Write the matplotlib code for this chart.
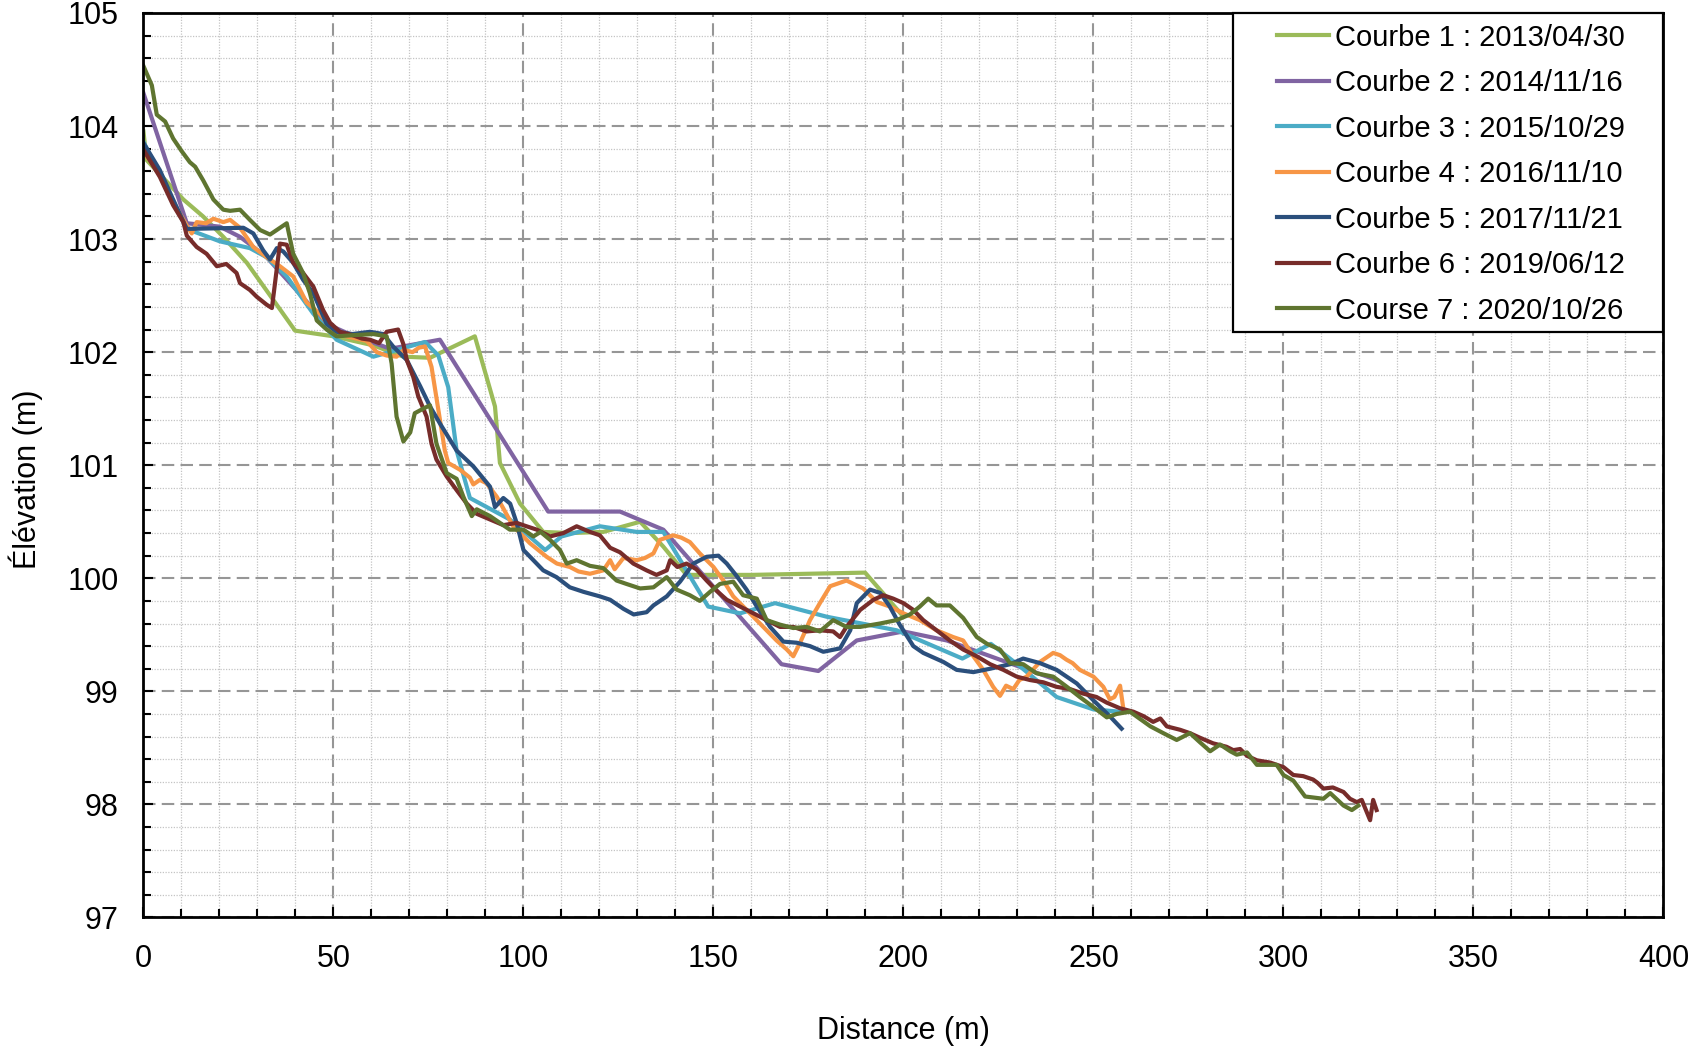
import numpy as np
import matplotlib
matplotlib.use("Agg")
import matplotlib.pyplot as plt
from matplotlib.patches import Rectangle
from matplotlib.ticker import MultipleLocator

# longitudinal profiles: (distance m, elevation m)
courbe_1 = [
    (0, 103.95), (0.8, 103.70), (10.5, 103.35), (15.7, 103.20), (21, 103.02),
    (27.2, 102.79), (34.2, 102.46), (39.9, 102.19), (50, 102.14), (60.5, 102.06),
    (68.4, 101.96), (75.4, 101.95), (87.2, 102.14), (92.5, 101.52), (93.8, 101.02),
    (99.1, 100.66), (105.2, 100.41), (112.2, 100.40), (121, 100.41), (130.7, 100.50),
    (136.8, 100.28), (142.9, 100.03), (160, 100.03), (189.9, 100.05), (200, 99.66),
]

courbe_2 = [
    (0, 104.29), (11.4, 103.14), (20.1, 103.11), (25.4, 103.02), (32.4, 102.84),
    (39.4, 102.58), (48.2, 102.25), (53.5, 102.17), (64.9, 102.03), (78, 102.11),
    (106.5, 100.59), (125.4, 100.59), (136.8, 100.43), (167.9, 99.24), (177.6, 99.18),
    (187.7, 99.45), (200, 99.53), (211.4, 99.45), (225.4, 99.28), (240.3, 99.10),
]

courbe_3 = [
    (0, 103.86), (11.4, 103.09), (20.1, 102.98), (28, 102.92), (32.4, 102.84),
    (37.7, 102.67), (44.7, 102.34), (50.8, 102.11), (60.5, 101.96), (74.1, 102.09),
    (77.6, 101.97), (80.2, 101.69), (82.4, 101.13), (85.9, 100.71), (96.4, 100.52),
    (105.7, 100.25), (110, 100.37), (120.1, 100.46), (129.8, 100.41), (136.8, 100.41),
    (148.6, 99.75), (157, 99.69), (166.2, 99.78), (179.8, 99.66), (198.2, 99.54),
    (215.5, 99.29), (223, 99.42), (230.7, 99.22), (240.3, 98.95), (250, 98.84),
    (257, 98.82),
]

courbe_4 = [
    (0, 103.77), (4.3, 103.58), (7.8, 103.33), (11.4, 103.12), (12.7, 103.05),
    (14, 103.15), (16.5, 103.14), (18.4, 103.18), (21, 103.15), (22.8, 103.17),
    (25.4, 103.10), (28.9, 102.93), (32.4, 102.84), (35.9, 102.76), (39.4, 102.67),
    (42.9, 102.44), (46.4, 102.34), (49.9, 102.19), (53.4, 102.14), (58.7, 102.10),
    (61.4, 102.00), (64, 101.97), (66.6, 101.96), (68.5, 102.02), (70.8, 102.00),
    (72.5, 102.04), (74.1, 102.05), (75.8, 101.87), (77.6, 101.49), (79.3, 101.13),
    (80.2, 101.02), (83.3, 100.96), (85.9, 100.89), (86.8, 100.83), (88.5, 100.87),
    (90.3, 100.84), (93, 100.72), (97.3, 100.46), (101.7, 100.31), (106.1, 100.19),
    (108.8, 100.13), (112.2, 100.10), (114.5, 100.06), (117.5, 100.04), (121, 100.07),
    (122.8, 100.16), (124, 100.08), (126.3, 100.18), (129.8, 100.16), (132, 100.18),
    (134.2, 100.22), (135.9, 100.34), (139.4, 100.38), (141.5, 100.36), (143.8, 100.32),
    (146.4, 100.22), (150, 100.10), (152.6, 99.98), (155.2, 99.84), (159.6, 99.69),
    (163.1, 99.57), (166.6, 99.45), (169.3, 99.37), (171, 99.31), (172.8, 99.43),
    (175.4, 99.63), (178, 99.78), (180.7, 99.93), (185, 99.98), (189.4, 99.91),
    (193, 99.79), (196.4, 99.75), (200, 99.69), (204.3, 99.63), (208.7, 99.54),
    (213.1, 99.48), (215.7, 99.45), (218.4, 99.31), (221, 99.19), (223.6, 99.04),
    (225.4, 98.96), (227, 99.05), (228.9, 99.02), (230.5, 99.10), (232.4, 99.13),
    (235.9, 99.26), (239.4, 99.34), (241.2, 99.32), (242.9, 99.28), (244.5, 99.25),
    (246.4, 99.19), (250, 99.13), (252.6, 99.04), (254.3, 98.93), (255.5, 98.95),
    (257, 99.05), (257.8, 98.86),
]

courbe_5 = [
    (0, 103.85), (4.3, 103.61), (7.8, 103.35), (11.4, 103.09), (26.3, 103.10),
    (28.9, 103.05), (31.5, 102.90), (33.3, 102.82), (35.1, 102.92), (36.8, 102.89),
    (39.4, 102.79), (42, 102.64), (44.7, 102.52), (48.2, 102.25), (50.8, 102.18),
    (55, 102.16), (59.6, 102.18), (63.1, 102.16), (65.7, 102.05), (69.3, 101.93),
    (72.8, 101.70), (75.4, 101.52), (78, 101.37), (82.4, 101.13), (86.8, 100.99),
    (91.2, 100.81), (92.5, 100.63), (94.7, 100.71), (96.5, 100.66), (98.2, 100.49),
    (100, 100.25), (102.6, 100.16), (105.2, 100.07), (108.7, 100.01), (112.2, 99.92),
    (115.8, 99.88), (120.1, 99.84), (122.8, 99.81), (126.3, 99.73), (129, 99.68),
    (132.4, 99.70), (134.2, 99.76), (137.7, 99.84), (141.2, 99.97), (144.7, 100.13),
    (148.2, 100.19), (151.3, 100.20), (153.5, 100.13), (156.1, 100.02), (158.7, 99.90),
    (161.4, 99.75), (164.9, 99.57), (168.4, 99.44), (171.9, 99.43), (175.4, 99.40),
    (178.9, 99.35), (183.3, 99.38), (186, 99.54), (187.7, 99.78), (191.2, 99.90),
    (193.9, 99.87), (196.4, 99.75), (199, 99.59), (202.6, 99.40), (205.2, 99.34),
    (210.5, 99.26), (214, 99.19), (218.4, 99.17), (222.8, 99.20), (228.1, 99.24),
    (231.5, 99.29), (235.9, 99.25), (240.3, 99.19), (245.6, 99.07), (250, 98.92),
    (254.3, 98.78), (257.4, 98.67),
]

courbe_6 = [
    (0, 103.79), (4.3, 103.55), (7.8, 103.30), (10.5, 103.15), (11.4, 103.03),
    (14, 102.93), (16.6, 102.87), (19.3, 102.76), (21.8, 102.78), (24.5, 102.70),
    (25.4, 102.61), (28, 102.55), (29.8, 102.49), (32.4, 102.42), (33.8, 102.39),
    (35.9, 102.96), (37.7, 102.95), (39.4, 102.79), (42, 102.70), (44.7, 102.58),
    (47.3, 102.37), (49.1, 102.26), (51.7, 102.18), (55, 102.15), (57.5, 102.12),
    (59.6, 102.11), (62, 102.08), (64, 102.18), (67, 102.20), (68.4, 102.07),
    (69.3, 101.93), (71, 101.78), (72.3, 101.61), (74.5, 101.43), (75.8, 101.19),
    (77.1, 101.05), (79.8, 100.90), (82.4, 100.78), (85.1, 100.66), (87.7, 100.57),
    (91.2, 100.52), (94.7, 100.47), (98.2, 100.49), (100.8, 100.46), (103.5, 100.43),
    (107, 100.37), (110.5, 100.40), (114, 100.46), (117.5, 100.41), (120.1, 100.38),
    (122.8, 100.27), (125.4, 100.23), (128.9, 100.13), (132.4, 100.07), (135, 100.03),
    (137.7, 100.07), (138.6, 100.16), (140.5, 100.10), (142.9, 100.13), (145.5, 100.08),
    (148.2, 99.98), (150.8, 99.89), (153.5, 99.81), (157, 99.75), (160.5, 99.69),
    (164, 99.63), (167.5, 99.57), (171, 99.57), (174.5, 99.53), (178, 99.54),
    (181.5, 99.53), (183.3, 99.48), (185, 99.57), (188.6, 99.72), (192.1, 99.81),
    (194.7, 99.85), (197.3, 99.82), (200, 99.78), (202.6, 99.72), (205.2, 99.63),
    (208.7, 99.54), (212.2, 99.45), (215.7, 99.37), (219.3, 99.31), (222.8, 99.24),
    (226.3, 99.19), (229.8, 99.13), (233.3, 99.10), (236.8, 99.08), (240.3, 99.04),
    (243.8, 99.02), (247.3, 98.98), (250.8, 98.95), (253.5, 98.90), (257, 98.85),
    (260.5, 98.82), (263.2, 98.78), (265.7, 98.73), (267.6, 98.76), (269.3, 98.69),
    (272.8, 98.66), (275.4, 98.63), (278, 98.59), (281.5, 98.54), (285, 98.51),
    (286.8, 98.48), (288.6, 98.49), (290.4, 98.43), (293, 98.39), (296.5, 98.37),
    (300, 98.33), (302.6, 98.26), (305.2, 98.25), (307.8, 98.22), (309, 98.19),
    (310.5, 98.14), (313, 98.15), (315.8, 98.11), (317.5, 98.05), (319.3, 98.02),
    (320.6, 98.04), (322.8, 97.86), (323.6, 98.04), (324.5, 97.95),
]

courbe_7 = [
    (0, 104.53), (2.2, 104.36), (3.5, 104.10), (5.7, 104.04), (7.8, 103.89),
    (10, 103.78), (12.2, 103.68), (13.6, 103.64), (15.7, 103.52), (18.4, 103.35),
    (21, 103.26), (22.8, 103.25), (25.4, 103.26), (28, 103.17), (30.7, 103.08),
    (33.3, 103.04), (37.7, 103.14), (39.4, 102.87), (42, 102.70), (43.8, 102.52),
    (45.6, 102.28), (48.2, 102.20), (50.8, 102.14), (55.2, 102.15), (60.5, 102.16),
    (64, 102.14), (65.3, 101.90), (66.6, 101.43), (68.4, 101.21), (70.2, 101.29),
    (71.4, 101.46), (73.6, 101.50), (75.4, 101.53), (77.1, 101.19), (79.8, 100.93),
    (82.4, 100.88), (84.2, 100.72), (86.4, 100.55), (87.7, 100.61), (91.2, 100.55),
    (96.4, 100.43), (100, 100.43), (102.6, 100.37), (104.5, 100.41), (107, 100.34),
    (109.6, 100.25), (111.4, 100.13), (114, 100.16), (117.5, 100.11), (121, 100.09),
    (124.5, 99.98), (127.1, 99.95), (130.7, 99.91), (134.2, 99.92), (137.7, 100.01),
    (140.3, 99.90), (143.8, 99.85), (146.4, 99.80), (149.1, 99.88), (151.7, 99.95),
    (155.2, 99.97), (157.8, 99.85), (161.4, 99.82), (164, 99.63), (167.5, 99.59),
    (171, 99.56), (174.5, 99.57), (178, 99.53), (181.5, 99.63), (185, 99.57),
    (188.6, 99.57), (193.8, 99.60), (198.2, 99.63), (201.7, 99.68), (204.3, 99.75),
    (206.5, 99.82), (208.7, 99.76), (212.2, 99.76), (215.7, 99.65), (219.3, 99.48),
    (222, 99.42), (225.4, 99.37), (228, 99.25), (231.5, 99.24), (235, 99.16),
    (239.4, 99.13), (243, 99.04), (246.4, 98.95), (250, 98.86), (253.5, 98.77),
    (256.1, 98.80), (259.6, 98.82), (265, 98.69), (268.4, 98.63), (271.9, 98.57),
    (275.4, 98.63), (278, 98.55), (280.7, 98.47), (283.3, 98.53), (286, 98.47),
    (287.7, 98.44), (290.4, 98.46), (293, 98.35), (298.2, 98.35), (300, 98.26),
    (302.6, 98.21), (305.7, 98.07), (310.5, 98.05), (312.3, 98.10), (315.8, 97.99),
    (318, 97.95), (319.7, 97.99),
]

labels = [
    "Courbe 1 : 2013/04/30",
    "Courbe 2 : 2014/11/16",
    "Courbe 3 : 2015/10/29",
    "Courbe 4 : 2016/11/10",
    "Courbe 5 : 2017/11/21",
    "Courbe 6 : 2019/06/12",
    "Course 7 : 2020/10/26",
]

colors = ["#9bbb59", "#8064a2", "#4bacc6", "#f79646", "#2b4f7c", "#772c2a", "#5f7530"]

profiles = [courbe_1, courbe_2, courbe_3, courbe_4, courbe_5, courbe_6, courbe_7]

plt.rcParams["font.family"] = ["Liberation Sans", "DejaVu Sans"]

fig = plt.figure(figsize=(16.9, 10.53), dpi=100)
ax = fig.add_axes([0.0849, 0.1287, 0.8994, 0.859])

for pts, color, label in zip(profiles, colors, labels):
    dist, elev = np.array(pts).T
    ax.plot(dist, elev, color=color, lw=3.0, label=label, solid_joinstyle="round")

ax.set_xlim(0, 400)
ax.set_ylim(97, 105)
ax.xaxis.set_major_locator(MultipleLocator(50))
ax.xaxis.set_minor_locator(MultipleLocator(10))
ax.yaxis.set_major_locator(MultipleLocator(1))
ax.yaxis.set_minor_locator(MultipleLocator(0.2))

ax.set_axisbelow(True)
ax.grid(which="minor", linestyle=(0, (1, 1.2)), color="#c4c4c4", lw=0.9)
ax.grid(which="major", linestyle=(0, (6, 3)), color="#969696", lw=1.5)

for spine in ax.spines.values():
    spine.set_linewidth(2)
    spine.set_color("black")

ax.tick_params(which="both", direction="in", top=False, right=False,
               width=1.5, labelsize=22)
ax.tick_params(which="major", length=7)
ax.tick_params(which="minor", length=5.5)
ax.tick_params(axis="x", which="major", pad=19)
ax.tick_params(axis="y", which="major", pad=18)

ax.set_xlabel("Distance (m)", fontsize=22)
ax.set_ylabel("Élévation (m)", fontsize=22)
ax.xaxis.set_label_coords(0.5, -0.109)
ax.yaxis.set_label_coords(-0.066, 0.484)

# legend box sits in the upper right corner, drawn separately
frame = Rectangle((0.7168, 0.6473), 0.2832, 0.3527, transform=ax.transAxes,
                  facecolor="white", edgecolor="black", lw=1.6, zorder=4,
                  clip_on=False)
ax.add_patch(frame)
leg = ax.legend(loc="upper left", bbox_to_anchor=(0.7457, 0.9883),
                frameon=False, fontsize=21, borderpad=0, borderaxespad=0,
                handlelength=1.8, handletextpad=0.2, labelspacing=0.6)
leg.set_zorder(5)

fig.savefig("out.png", dpi=100)
